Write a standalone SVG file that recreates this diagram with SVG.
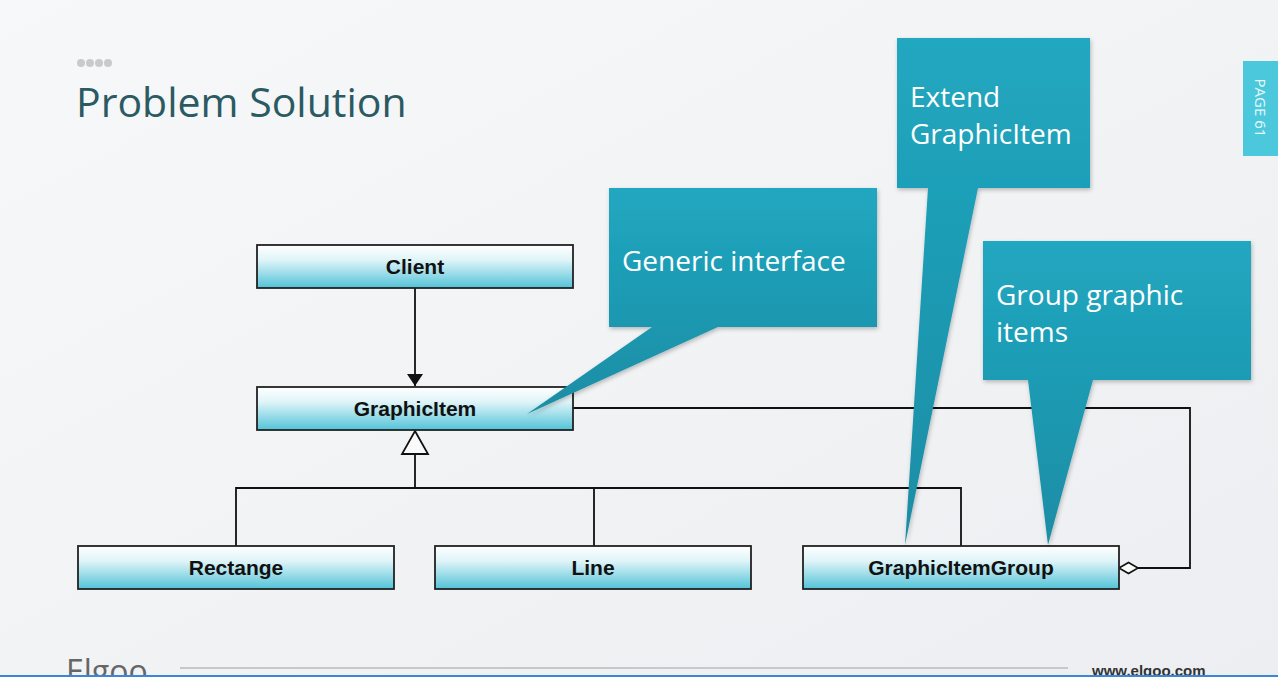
<svg xmlns="http://www.w3.org/2000/svg" width="1278" height="677" viewBox="0 0 1278 677">
<defs>
<linearGradient id="bg" x1="0" y1="0" x2="1" y2="1">
<stop offset="0" stop-color="#f7f8f9"/><stop offset="1" stop-color="#eceef1"/>
</linearGradient>
<linearGradient id="box" x1="0" y1="0" x2="0" y2="1">
<stop offset="0" stop-color="#ffffff"/><stop offset="0.35" stop-color="#dff4f8"/><stop offset="1" stop-color="#52c3d8"/>
</linearGradient>
<linearGradient id="call" x1="0" y1="0" x2="0" y2="1">
<stop offset="0" stop-color="#21a7c0"/><stop offset="1" stop-color="#1a8da5"/>
</linearGradient>
<filter id="sh" x="-10%" y="-10%" width="130%" height="130%">
<feDropShadow dx="1" dy="2" stdDeviation="2" flood-color="#000" flood-opacity="0.25"/>
</filter>
<marker id="arr" viewBox="0 0 12 16" refX="12" refY="8" markerWidth="12" markerHeight="16" markerUnits="userSpaceOnUse" orient="auto">
<path d="M0,0 L12,8 L0,16 z" fill="#111" transform="rotate(0)"/>
</marker>
<style>
.box{fill:url(#box);stroke:#222;stroke-width:1.8}
.lbl{font-family:"Liberation Sans",Arial,sans-serif;font-weight:bold;font-size:21px;fill:#111;text-anchor:middle}
.ln{fill:none;stroke:#111;stroke-width:1.8}
.call{fill:url(#call);filter:url(#sh)}
.ct{font-family:"Open Sans","Noto Sans",sans-serif;font-size:28px;fill:#ffffff}
</style>
</defs>
<rect width="1278" height="677" fill="url(#bg)"/>
<g id="header">
<circle cx="81" cy="63" r="4" fill="#c9cacc"/><circle cx="90" cy="63" r="4" fill="#c9cacc"/><circle cx="99" cy="63" r="4" fill="#c9cacc"/><circle cx="108" cy="63" r="4" fill="#c9cacc"/>
<text x="76" y="117" font-family="'Open Sans','Noto Sans',sans-serif" font-size="41" fill="#2b5a63">Problem Solution</text>
</g>
<g id="page-tab">
<rect x="1243" y="61" width="35" height="95" fill="#4cc8dc"/>
<text transform="translate(1255,108) rotate(90)" font-family="'Open Sans','Noto Sans',sans-serif" font-size="15" fill="#e8f8fb" text-anchor="middle">PAGE 61</text>
</g>
<g id="connectors">
<line class="ln" x1="415" y1="288" x2="415" y2="386" marker-end="url(#arr)"/>
<path class="ln" d="M415,454 V488 M236,546 V488 H961 V546 M594,488 V546"/>
<path d="M415,431 L428,454 L402,454 z" fill="#fafafa" stroke="#111" stroke-width="1.8"/>
<path class="ln" d="M573,408 H1190 V568 H1138"/>
<path d="M1119,568 L1128.5,562.5 L1138,568 L1128.5,573.5 z" fill="#fafafa" stroke="#111" stroke-width="1.6"/>
</g>
<g id="client"><rect class="box" x="257" y="245" width="316" height="43"/><text class="lbl" x="415" y="274">Client</text></g>
<g id="graphicitem"><rect class="box" x="257" y="387" width="316" height="43"/><text class="lbl" x="415" y="416">GraphicItem</text></g>
<g id="rectange"><rect class="box" x="78" y="546" width="316" height="43"/><text class="lbl" x="236" y="575">Rectange</text></g>
<g id="line"><rect class="box" x="435" y="546" width="316" height="43"/><text class="lbl" x="593" y="575">Line</text></g>
<g id="graphicitemgroup"><rect class="box" x="803" y="546" width="316" height="43"/><text class="lbl" x="961" y="575">GraphicItemGroup</text></g>
<g id="callout-generic">
<path class="call" d="M609,188 H877 V327 H718 L527,414 L652,327 H609 z"/>
<text class="ct" x="622" y="271">Generic interface</text>
</g>
<g id="callout-extend">
<path class="call" d="M897,38 H1090 V188 H978 L905,545 L928,188 H897 z"/>
<text class="ct" x="910" y="107">Extend</text>
<text class="ct" x="910" y="144">GraphicItem</text>
</g>
<g id="callout-group">
<path class="call" d="M983,241 H1251 V380 H1093 L1048,545 L1028,380 H983 z"/>
<text class="ct" x="996" y="305">Group graphic</text>
<text class="ct" x="996" y="342">items</text>
</g>
<g id="footer">
<text x="66" y="683" font-family="'Open Sans','Noto Sans',sans-serif" font-size="32" fill="#666">Elgoo</text>
<line x1="180" y1="668" x2="1068" y2="668" stroke="#c6c8cb" stroke-width="2"/>
<text x="1092" y="676" font-family="'Liberation Sans',Arial,sans-serif" font-weight="bold" font-size="15" fill="#333">www.elgoo.com</text>
<rect x="0" y="675" width="1278" height="2" fill="#3a86d8"/>
</g>
</svg>
